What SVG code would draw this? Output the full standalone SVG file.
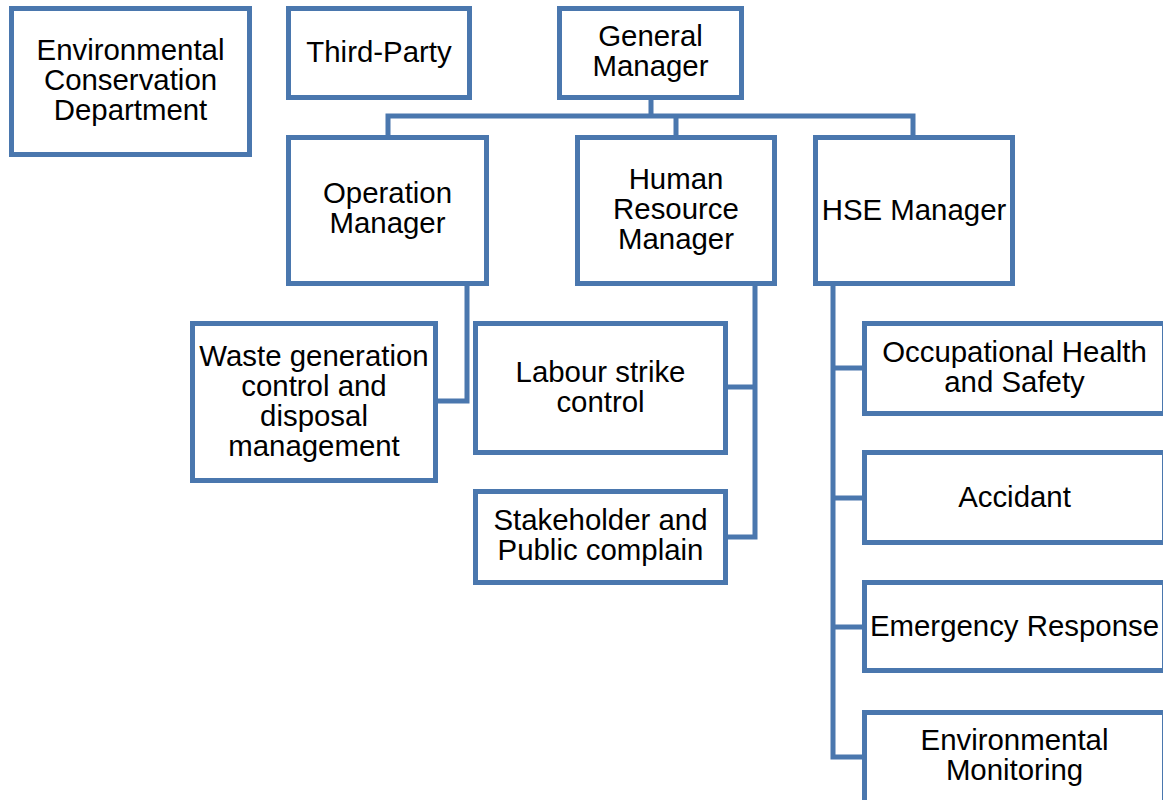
<svg xmlns="http://www.w3.org/2000/svg" width="1163" height="800" viewBox="0 0 1163 800">
  <style>
    .box { fill: #ffffff; stroke: #4a77ae; stroke-width: 5; }
    .link { fill: none; stroke: #4a77ae; stroke-width: 5; stroke-linejoin: miter; }
    text { font-family: "Liberation Sans", Arial, sans-serif; font-size: 29.4px; fill: #000000; text-anchor: middle; }
  </style>
  <rect width="1163" height="800" fill="#ffffff"/>

  <!-- connectors -->
  <g id="connectors">
    <path class="link" d="M651,99 V116 M388,136 V116 H913 V136 M676,116 V136"/>
    <path class="link" d="M467,284 V401 H437"/>
    <path class="link" d="M755,284 V537 H727 M755,387 H727"/>
    <path class="link" d="M833,284 V757 H863 M833,368 H863 M833,498 H863 M833,627 H863"/>
  </g>

  <g id="env-conservation">
    <rect class="box" x="11.5" y="8.5" width="238" height="146"/>
    <text x="130.5" y="60">Environmental</text>
    <text x="130.5" y="90">Conservation</text>
    <text x="130.5" y="120">Department</text>
  </g>

  <g id="third-party">
    <rect class="box" x="288.5" y="8.5" width="181" height="89"/>
    <text x="379" y="62">Third-Party</text>
  </g>

  <g id="general-manager">
    <rect class="box" x="559.5" y="8.5" width="182" height="89"/>
    <text x="650.5" y="46">General</text>
    <text x="650.5" y="76">Manager</text>
  </g>

  <g id="operation-manager">
    <rect class="box" x="288.5" y="137.5" width="198" height="146"/>
    <text x="387.5" y="203">Operation</text>
    <text x="387.5" y="233">Manager</text>
  </g>

  <g id="hr-manager">
    <rect class="box" x="577.5" y="137.5" width="197" height="146"/>
    <text x="676" y="189">Human</text>
    <text x="676" y="219">Resource</text>
    <text x="676" y="249">Manager</text>
  </g>

  <g id="hse-manager">
    <rect class="box" x="815.5" y="137.5" width="197" height="146"/>
    <text x="914" y="220">HSE Manager</text>
  </g>

  <g id="waste">
    <rect class="box" x="192.5" y="323.5" width="243" height="157"/>
    <text x="314" y="366">Waste generation</text>
    <text x="314" y="396">control and</text>
    <text x="314" y="426">disposal</text>
    <text x="314" y="456">management</text>
  </g>

  <g id="labour">
    <rect class="box" x="475.5" y="323.5" width="250" height="129"/>
    <text x="600.5" y="382">Labour strike</text>
    <text x="600.5" y="412">control</text>
  </g>

  <g id="stakeholder">
    <rect class="box" x="475.5" y="491.5" width="250" height="91"/>
    <text x="600.5" y="530">Stakeholder and</text>
    <text x="600.5" y="560">Public complain</text>
  </g>

  <g id="ohs">
    <rect class="box" x="864.5" y="323.5" width="300" height="90"/>
    <text x="1014.5" y="362">Occupational Health</text>
    <text x="1014.5" y="392">and Safety</text>
  </g>

  <g id="accident">
    <rect class="box" x="864.5" y="452.5" width="300" height="90"/>
    <text x="1014.5" y="507">Accidant</text>
  </g>

  <g id="emergency">
    <rect class="box" x="864.5" y="582.5" width="300" height="88"/>
    <text x="1014.5" y="636">Emergency Response</text>
  </g>

  <g id="env-monitoring">
    <rect class="box" x="864.5" y="712.5" width="300" height="100"/>
    <text x="1014.5" y="750">Environmental</text>
    <text x="1014.5" y="780">Monitoring</text>
  </g>
</svg>
